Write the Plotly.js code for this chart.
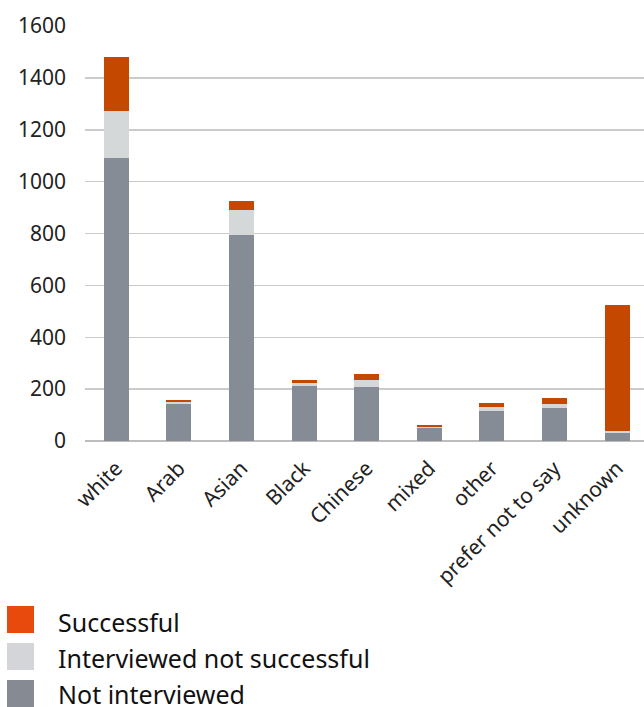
<!DOCTYPE html>
<html>
<head>
<meta charset="utf-8">
<script src="https://cdn.plot.ly/plotly-3.0.1.min.js"></script>
<style>html,body{margin:0;padding:0;background:#fff;}#chart{width:644px;height:707px;}</style>
</head>
<body>
<div id="chart"></div>
<script>
const categories = ["white","Arab","Asian","Black","Chinese","mixed","other","prefer not to say","unknown"];
const notInterviewed = [1091,143,794,212,208,50,116,127,31];
const interviewedNotSuccessful = [181,7,96,11,26,4,15,16,8];
const successful = [208,8,35,11,24,7,15,23,485];
const seriesNames = ["Successful","Interviewed not successful","Not interviewed"];
const yTicks = [0,200,400,600,800,1000,1200,1400,1600];

const barColors = {succ:"#C54800", ins:"#D5D8D9", ni:"#868C95"};
const legendColors = ["#E84A0E","#D4D5D9","#858A93"];
const fontFam = "'Noto Sans', 'Open Sans', sans-serif";

const traces = [
  {type:"bar", x:categories, y:notInterviewed, name:seriesNames[2], marker:{color:barColors.ni}, width:0.4, showlegend:false},
  {type:"bar", x:categories, y:interviewedNotSuccessful, name:seriesNames[1], marker:{color:barColors.ins}, width:0.4, showlegend:false},
  {type:"bar", x:categories, y:successful, name:seriesNames[0], marker:{color:barColors.succ}, width:0.4, showlegend:false}
];

// paper coords: plot area spans x 85..644 px, y 26..441 px
const PL = 85, PW = 559, PB = 441, PH = 415;
const px = v => (v - PL) / PW;
const py = v => (PB - v) / PH;

const shapes = [];
const annotations = [];
const legendY = [606, 643, 680];
seriesNames.forEach((n,i)=>{
  const t = legendY[i], b = legendY[i] + 27;
  shapes.push({type:"rect", xref:"paper", yref:"paper", x0:px(7), x1:px(34), y0:py(b), y1:py(t), fillcolor:legendColors[i], line:{width:0}});
  annotations.push({xref:"paper", yref:"paper", x:px(56), y:py((t+b)/2 + (i === 2 ? 0 : 2)), xanchor:"left", yanchor:"middle", text:n, showarrow:false, font:{family:fontFam, size:25, color:"#111"}});
});

const layout = {
  width:644, height:707,
  margin:{l:85, r:0, t:26, b:266},
  paper_bgcolor:"#fff", plot_bgcolor:"#fff",
  barmode:"stack",
  showlegend:false,
  font:{family:fontFam, color:"#222"},
  xaxis:{range:[-0.5,8.43], tickangle:-45, tickfont:{size:21, family:fontFam, color:"#222"}, showgrid:false, zeroline:false, showline:false, ticks:"", ticklabelstandoff:10},
  yaxis:{range:[0,1600], tickvals:yTicks, tickfont:{size:21, family:fontFam, color:"#222"}, gridcolor:"#CBCBCB", gridwidth:1.5, zeroline:true, zerolinecolor:"#BDBDBD", zerolinewidth:2, ticks:"", ticklabelstandoff:18},
  shapes:shapes,
  annotations:annotations
};

Plotly.newPlot("chart", traces, layout, {displayModeBar:false, staticPlot:true});
</script>
</body>
</html>
